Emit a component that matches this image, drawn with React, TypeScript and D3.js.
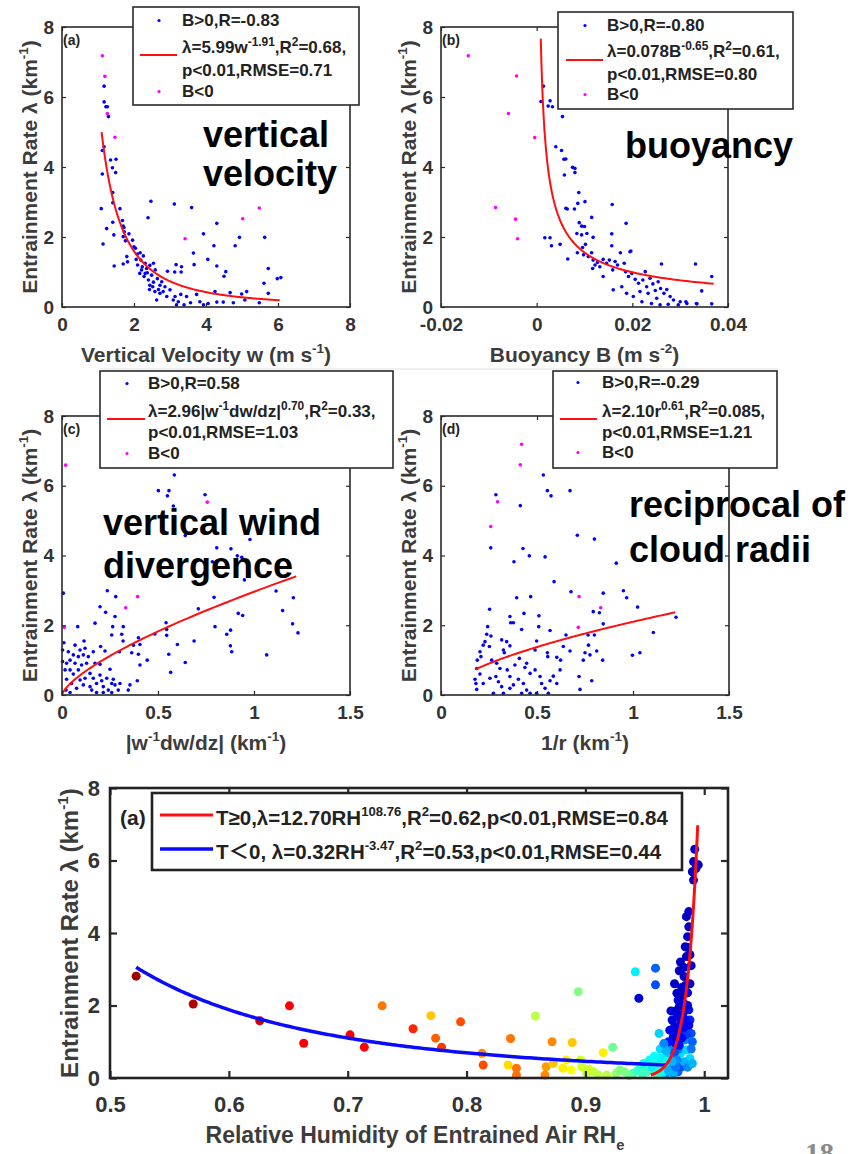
import { useRef, useEffect } from 'react';
import * as d3 from 'd3';

const FONT = '"Liberation Sans", Arial, "Noto Sans CJK SC", sans-serif';
const BLUE = '#0000ff';
const MAGENTA = '#ff00ff';
const RED = '#ff1010';
const AXIS = '#2a2a2a';
const TEXT = '#333';

// (a) vertical velocity w (m/s) vs entrainment rate, B>0 and B<0
const velPos: [number, number][] = [
  [1.17, 6.31], [1.17, 5.86], [1.22, 5.72], [1.26, 5.72], [1.29, 5.44], [1.12, 4.47], [1.17, 4.58], [1.12, 3.8],
  [1.35, 4.2], [1.5, 4.22], [1.4, 3.98], [1.49, 3.84], [1.41, 3.27], [1.41, 2.98], [1.09, 2.81], [1.61, 2.81],
  [2.47, 3.02], [3.12, 2.94], [3.6, 2.84], [1.41, 2.42], [1.24, 2.24], [1.68, 2.47], [1.7, 2.31], [1.72, 2.27],
  [1.73, 2.15], [2.39, 2.55], [1.44, 2.06], [1.14, 1.8], [1.7, 2.01], [1.76, 1.89], [1.86, 2.09], [1.96, 1.91],
  [2.0, 1.72], [2.04, 1.68], [4.3, 2.39], [3.93, 2.09], [4.93, 1.99], [5.63, 1.99], [4.22, 1.75], [4.81, 1.75],
  [3.65, 1.54], [4.05, 1.36], [4.3, 1.17], [3.67, 1.21], [3.17, 1.21], [3.32, 1.15], [3.31, 1.0], [2.93, 1.02],
  [3.13, 1.0], [4.5, 0.88], [4.55, 1.01], [5.73, 1.1], [5.98, 0.81], [6.08, 0.84], [5.61, 0.68], [1.8, 1.44],
  [1.7, 1.23], [1.82, 1.29], [1.45, 1.17], [2.09, 1.51], [2.17, 1.55], [2.26, 1.46], [2.19, 1.34], [2.31, 1.25],
  [2.1, 1.2], [2.23, 1.15], [2.35, 1.1], [2.44, 1.19], [2.54, 1.25], [2.59, 1.06], [2.16, 0.96], [2.28, 0.87],
  [2.4, 0.77], [2.44, 0.62], [2.54, 0.71], [2.65, 0.81], [2.72, 0.62], [2.77, 0.72], [2.86, 0.58], [2.58, 0.44],
  [2.68, 0.5], [3.0, 0.49], [3.14, 0.3], [3.3, 0.36], [3.46, 0.3], [3.57, 0.12], [3.74, 0.36], [3.83, 0.15],
  [4.06, 0.1], [4.25, 0.44], [4.3, 0.14], [4.48, 0.14], [4.67, 0.41], [4.76, 0.12], [4.99, 0.37], [5.13, 0.44],
  [5.08, 0.2], [5.48, 0.12], [5.73, 0.39], [3.23, 0.15], [3.18, 0.06], [3.39, 0.06], [3.93, 0.06], [2.63, 0.2],
  [2.91, 0.3], [3.09, 0.2], [2.31, 0.96], [2.37, 0.98], [2.49, 0.91], [2.43, 0.5], [2.72, 0.39], [2.81, 0.44],
  [2.52, 0.58], [2.21, 1.06], [2.06, 1.36],
];
const velNeg: [number, number][] = [
  [1.12, 7.18], [1.19, 6.59], [1.26, 5.53], [1.47, 4.85], [3.42, 1.95], [5.02, 2.52], [5.48, 2.83],
];

// (b) buoyancy B (m/s2)
const buoyPos: [number, number][] = [
  [0.0014, 6.31], [0.0009, 5.87], [0.0024, 5.74], [0.0033, 5.72], [0.0028, 5.89], [0.0054, 5.44], [0.004, 4.58],
  [0.0052, 4.47], [0.0057, 4.22], [0.0061, 4.23], [0.0075, 3.99], [0.008, 3.96], [0.008, 3.84], [0.0058, 3.77],
  [0.0088, 3.27], [0.0101, 3.01], [0.0086, 2.96], [0.0061, 2.82], [0.0064, 2.8], [0.0079, 2.8], [0.0158, 2.93],
  [0.0115, 2.56], [0.0089, 2.41], [0.0094, 2.31], [0.01, 2.3], [0.0084, 2.1], [0.0094, 2.06], [0.0105, 2.1],
  [0.0118, 1.99], [0.0017, 1.98], [0.0028, 1.98], [0.0031, 1.75], [0.0049, 1.79], [0.0187, 2.39], [0.0157, 2.09],
  [0.0157, 1.75], [0.0197, 1.6], [0.0175, 1.55], [0.0065, 1.37], [0.0085, 1.55], [0.0096, 1.7], [0.0102, 1.79],
  [0.0098, 1.49], [0.0108, 1.44], [0.0115, 1.55], [0.0118, 1.34], [0.0122, 1.2], [0.0117, 1.1], [0.0127, 1.27],
  [0.0132, 1.15], [0.0139, 1.36], [0.0146, 1.25], [0.0152, 1.34], [0.0159, 1.06], [0.0164, 1.3], [0.0169, 1.2],
  [0.0183, 1.25], [0.0186, 1.01], [0.0192, 0.87], [0.0199, 0.96], [0.0206, 0.79], [0.0213, 0.68], [0.0222, 0.77],
  [0.0227, 1.01], [0.023, 0.58], [0.0237, 0.82], [0.0243, 0.66], [0.0248, 0.47], [0.0254, 0.72], [0.0259, 0.53],
  [0.0266, 0.39], [0.0272, 0.5], [0.0279, 0.3], [0.0286, 0.2], [0.03, 0.15], [0.0314, 0.1], [0.0334, 0.1],
  [0.0261, 1.23], [0.0332, 1.23], [0.0139, 0.87], [0.016, 0.49], [0.0178, 0.58], [0.0188, 0.39], [0.0202, 0.3],
  [0.0216, 0.44], [0.0233, 0.39], [0.0251, 0.25], [0.022, 0.15], [0.024, 0.1], [0.0258, 0.06], [0.0275, 0.08],
  [0.0296, 0.06], [0.0345, 0.46], [0.0366, 0.87], [0.0366, 0.09], [0.0335, 0.09], [0.0312, 0.15], [0.0195, 1.58],
];
const buoyNeg: [number, number][] = [
  [-0.0143, 7.18], [-0.0042, 6.6], [-0.0059, 5.53], [-0.0004, 4.84], [-0.0086, 2.84], [-0.0044, 2.51], [-0.004, 1.95],
];

// (c) |w^-1 dw/dz| (1/km)
const divPos: [number, number][] = [
  [0.585, 6.31], [0.502, 5.86], [0.557, 5.86], [0.549, 5.71], [0.745, 5.74], [0.58, 5.42], [0.642, 4.57],
  [0.979, 4.46], [0.806, 4.22], [0.88, 4.19], [0.913, 3.99], [0.936, 3.95], [0.783, 3.82], [0.95, 3.3],
  [0.007, 2.92], [0.236, 2.99], [0.28, 2.82], [0.792, 2.8], [1.115, 2.98], [1.205, 2.79], [1.149, 2.42],
  [0.198, 2.53], [0.227, 2.37], [0.276, 2.25], [0.71, 2.47], [0.918, 2.34], [0.941, 2.28], [1.201, 2.04],
  [1.229, 1.78], [0.172, 2.06], [0.264, 1.96], [0.319, 1.96], [0.542, 2.07], [0.797, 1.96], [0.082, 1.96],
  [0.259, 1.72], [0.311, 1.74], [0.398, 1.64], [0.484, 1.75], [0.545, 1.88], [0.545, 1.71], [0.858, 1.74],
  [0.878, 1.86], [0.01, 1.5], [0.115, 1.55], [0.318, 1.55], [0.372, 1.43], [0.406, 1.45], [0.601, 1.45],
  [0.688, 1.55], [0.877, 1.41], [0.884, 1.24], [1.066, 1.15], [0.201, 1.39], [0.163, 1.24], [0.224, 1.26],
  [0.299, 1.24], [0.363, 1.21], [0.398, 1.17], [0.444, 1.0], [0.556, 1.17], [0.642, 0.93], [0.566, 0.65],
  [0.406, 0.86], [0.392, 0.41], [0.354, 0.29], [0.345, 0.14], [0.003, 1.29], [0.003, 0.96], [0.016, 0.72],
  [0.024, 0.91], [0.042, 1.0], [0.059, 1.15], [0.068, 0.91], [0.085, 1.1], [0.094, 1.29], [0.12, 1.34],
  [0.111, 1.15], [0.042, 0.72], [0.059, 0.6], [0.085, 0.72], [0.102, 0.86], [0.128, 0.91], [0.024, 0.45],
  [0.05, 0.33], [0.076, 0.19], [0.021, 0.14], [0.042, 0.07], [0.094, 0.43], [0.111, 0.29], [0.146, 0.62],
  [0.163, 0.48], [0.18, 0.33], [0.198, 0.57], [0.207, 0.41], [0.215, 0.24], [0.233, 0.48], [0.259, 0.33],
  [0.241, 0.14], [0.267, 0.45], [0.276, 0.29], [0.293, 0.14], [0.155, 0.14], [0.18, 0.07], [0.215, 0.07],
  [0.259, 0.07], [0.302, 0.33], [0.198, 0.88], [0.25, 0.74], [0.172, 0.91], [0.137, 1.1], [0.068, 1.43],
  [0.033, 1.24], [0.146, 0.24], [0.12, 0.48],
];
const divNeg: [number, number][] = [
  [0.019, 6.59], [0.757, 5.53], [0.583, 4.85], [0.394, 2.82], [0.332, 2.5], [0.012, 1.94],
];

// (d) 1/r (1/km)
const radPos: [number, number][] = [
  [0.533, 6.31], [0.554, 5.86], [0.573, 5.71], [0.672, 5.86], [0.286, 5.74], [0.413, 5.43], [0.259, 4.22],
  [0.71, 4.58], [0.799, 4.47], [0.427, 4.2], [0.46, 3.99], [0.542, 3.96], [0.38, 3.82], [0.913, 3.78],
  [0.589, 3.25], [0.677, 2.96], [0.845, 2.92], [0.95, 2.99], [0.967, 2.79], [0.467, 2.82], [0.394, 2.79],
  [0.253, 2.46], [1.024, 2.52], [0.793, 2.39], [0.825, 2.36], [0.51, 2.27], [0.432, 2.34], [0.359, 2.25],
  [0.377, 2.07], [0.363, 2.07], [0.243, 1.96], [0.42, 1.88], [0.509, 1.96], [0.568, 1.85], [0.845, 2.04],
  [1.224, 2.23], [1.106, 1.79], [0.651, 1.72], [0.766, 1.72], [0.799, 1.72], [0.238, 1.74], [0.26, 1.69],
  [0.316, 1.58], [0.342, 1.53], [0.359, 1.41], [0.498, 1.55], [0.229, 1.53], [0.22, 1.43], [0.252, 1.39],
  [0.203, 1.24], [0.189, 1.0], [0.208, 1.1], [0.325, 1.29], [0.33, 1.21], [0.408, 1.05], [0.49, 1.29],
  [0.554, 1.21], [0.556, 1.1], [0.603, 1.08], [0.623, 1.0], [0.637, 1.39], [0.672, 1.26], [0.768, 1.43],
  [0.75, 1.21], [0.776, 1.15], [0.811, 1.26], [0.741, 1.0], [0.842, 1.0], [0.997, 1.14], [1.036, 1.21],
  [0.719, 0.53], [0.785, 0.41], [0.724, 0.16], [0.186, 0.76], [0.203, 0.6], [0.177, 0.45], [0.182, 0.33],
  [0.186, 0.16], [0.22, 0.33], [0.255, 0.48], [0.286, 0.53], [0.299, 0.38], [0.316, 0.24], [0.325, 0.05],
  [0.359, 0.19], [0.377, 0.29], [0.403, 0.45], [0.429, 0.33], [0.446, 0.14], [0.464, 0.62], [0.49, 0.72],
  [0.516, 0.53], [0.524, 0.33], [0.542, 0.19], [0.568, 0.41], [0.585, 0.54], [0.603, 0.33], [0.62, 0.72],
  [0.559, 0.05], [0.498, 0.05], [0.464, 0.05], [0.42, 0.05], [0.273, 0.05], [0.345, 0.72], [0.307, 0.76],
  [0.29, 0.91], [0.264, 1.0], [0.385, 0.86], [0.437, 0.79], [0.359, 0.53], [0.446, 0.91],
];
const radNeg: [number, number][] = [
  [0.42, 7.19], [0.413, 6.6], [0.295, 5.54], [0.259, 4.83], [0.719, 2.82], [0.832, 2.5], [0.715, 1.94],
];

// power-law fits lambda = c * x^k over [from, to]
const fitVel = { c: 5.99, k: -1.91, from: 1.1, to: 6.05 };
const fitBuoy = { c: 0.078, k: -0.65, from: 0.00086, to: 0.037 };
const fitDiv = { c: 2.96, k: 0.7, from: 0.0005, to: 1.22 };
const fitRad = { c: 2.1, k: 0.61, from: 0.18, to: 1.22 };
const fitWarm = { c: 12.7, k: 108.76, from: 0.955, to: 0.9945 };
const fitCold = { c: 0.32, k: -3.47, from: 0.522, to: 0.968 };

// bottom panel: [RH_e, lambda, colour value 0 (cold) .. 1 (warm)]
const rhPoints: [number, number, number][] = [
  [0.522, 2.81, 0.97], [0.57, 2.04, 0.95], [0.626, 1.58, 0.92], [0.651, 1.99, 0.88], [0.663, 0.96, 0.88],
  [0.702, 1.19, 0.88], [0.714, 0.85, 0.88], [0.729, 1.99, 0.76], [0.755, 1.36, 0.84], [0.77, 1.72, 0.68],
  [0.774, 1.1, 0.78], [0.779, 0.85, 0.82], [0.795, 1.55, 0.8], [0.813, 0.68, 0.74], [0.814, 0.36, 0.8],
  [0.837, 1.09, 0.76], [0.835, 0.36, 0.66], [0.842, 0.27, 0.76], [0.842, 0.08, 0.76], [0.858, 1.71, 0.56],
  [0.872, 1.0, 0.74], [0.867, 0.31, 0.72], [0.866, 0.08, 0.74], [0.873, 0.4, 0.68], [0.881, 0.27, 0.64],
  [0.884, 0.5, 0.64], [0.889, 0.98, 0.68], [0.888, 0.22, 0.62], [0.894, 2.38, 0.5], [0.896, 0.5, 0.58],
  [0.897, 0.31, 0.58], [0.901, 0.13, 0.56], [0.907, 0.17, 0.56], [0.915, 0.7, 0.64], [0.923, 0.85, 0.48],
  [0.918, 0.08, 0.56], [0.926, 0.13, 0.52], [0.933, 0.17, 0.5], [0.94, 0.13, 0.45], [0.946, 0.27, 0.42],
  [0.949, 0.4, 0.38], [0.942, 2.93, 0.36], [0.945, 2.2, 0.08], [0.959, 3.03, 0.22], [0.959, 2.57, 0.2],
  [0.962, 1.23, 0.33], [0.954, 0.5, 0.38], [0.959, 0.22, 0.4], [0.964, 0.4, 0.4], [0.967, 0.59, 0.36],
  [0.968, 0.13, 0.28], [0.971, 0.31, 0.24], [0.973, 0.86, 0.26], [0.974, 1.14, 0.08], [0.975, 1.42, 0.08],
  [0.971, 1.32, 0.1], [0.977, 1.69, 0.08], [0.979, 1.97, 0.07], [0.977, 2.34, 0.06], [0.979, 2.96, 0.06],
  [0.982, 1.32, 0.16], [0.984, 1.05, 0.26], [0.985, 0.77, 0.34], [0.98, 0.68, 0.34], [0.985, 3.35, 0.06],
  [0.984, 3.62, 0.06], [0.986, 3.9, 0.07], [0.987, 4.17, 0.06], [0.985, 4.45, 0.06], [0.987, 4.59, 0.07],
  [0.98, 2.11, 0.07], [0.987, 1.88, 0.14], [0.988, 1.6, 0.16], [0.989, 1.23, 0.2], [0.984, 1.6, 0.12],
  [0.988, 0.54, 0.34], [0.991, 5.46, 0.06], [0.99, 5.69, 0.06], [0.993, 5.78, 0.06], [0.995, 5.88, 0.07],
  [0.992, 6.31, 0.06], [0.991, 5.97, 0.07], [0.978, 0.17, 0.22], [0.981, 0.31, 0.2], [0.974, 0.13, 0.3],
  [0.952, 0.17, 0.44], [0.961, 0.13, 0.46], [0.976, 0.95, 0.12], [0.978, 1.25, 0.1], [0.98, 1.5, 0.1],
  [0.982, 1.75, 0.09], [0.983, 2.05, 0.09], [0.981, 2.5, 0.07], [0.983, 2.8, 0.07], [0.986, 2.35, 0.1],
  [0.985, 1.2, 0.18], [0.983, 0.45, 0.3], [0.986, 0.3, 0.26], [0.972, 0.6, 0.32], [0.969, 0.45, 0.38],
  [0.966, 0.25, 0.4], [0.962, 0.55, 0.36], [0.97, 1.0, 0.14], [0.978, 0.8, 0.24], [0.99, 1.0, 0.22],
  [0.988, 2.6, 0.08], [0.989, 3.1, 0.07], [0.944, 0.2, 0.42], [0.948, 0.1, 0.44], [0.956, 0.3, 0.36],
  [0.937, 0.07, 0.48], [0.929, 0.22, 0.5], [0.911, 0.08, 0.56], [0.903, 0.25, 0.58],
  [0.975, 0.7, 0.2], [0.977, 0.5, 0.26], [0.979, 0.9, 0.14], [0.981, 1.1, 0.12], [0.983, 1.4, 0.1],
  [0.976, 1.85, 0.07], [0.978, 2.15, 0.07], [0.982, 2.3, 0.06], [0.984, 2.55, 0.06], [0.986, 2.0, 0.08],
  [0.987, 1.45, 0.12], [0.989, 0.8, 0.24], [0.99, 0.4, 0.3], [0.973, 1.6, 0.08], [0.972, 1.85, 0.08],
  [0.975, 2.6, 0.06], [0.98, 3.2, 0.06], [0.983, 3.05, 0.06], [0.986, 3.6, 0.06], [0.988, 3.4, 0.07],
  [0.963, 0.8, 0.34], [0.958, 0.6, 0.38], [0.957, 0.4, 0.4], [0.96, 0.1, 0.44], [0.965, 0.15, 0.38],
  [0.97, 0.2, 0.3], [0.976, 0.3, 0.24], [0.973, 0.45, 0.3], [0.968, 0.75, 0.3], [0.966, 0.95, 0.26],
];

const lambdaTicks = [0, 2, 4, 6, 8];
const rhTicks = [0.5, 0.6, 0.7, 0.8, 0.9, 1];

type Seg = [string, number]; // 0 normal, 1 superscript, -1 subscript

const yLabelSegs: Seg[] = [['Entrainment Rate λ (km', 0], ['-1', 1], [')', 0]];

const jet = d3
  .scaleLinear<string>()
  .domain([0, 0.125, 0.375, 0.625, 0.875, 1])
  .range(['#00008f', '#0000ff', '#00ffff', '#ffff00', '#ff0000', '#800000']);

function rich(text: any, segs: Seg[], fs: number, supScale = 0.64) {
  let cur = 0;
  segs.forEach(([t, k]) => {
    const target = k === 1 ? -0.42 * fs : k === -1 ? 0.3 * fs : 0;
    text
      .append('tspan')
      .attr('dy', target - cur)
      .attr('font-size', k === 0 ? fs : fs * supScale)
      .text(t);
    cur = target;
  });
}

function fitPoints(f: { c: number; k: number; from: number; to: number }, n = 200) {
  // geometric spacing so steep parts stay smooth
  return d3.range(n + 1).map((i) => {
    const x = f.from * Math.pow(f.to / f.from, i / n);
    return [x, f.c * Math.pow(x, f.k)] as [number, number];
  });
}

function styleAxis(g: any, fs: number, width: number) {
  g.select('.domain').remove();
  g.attr('font-family', FONT).attr('font-size', fs).attr('font-weight', 'bold').attr('color', AXIS);
  g.selectAll('line').attr('stroke-width', width);
  g.selectAll('text').attr('fill', TEXT);
}

const fmt = (d: any) => String(d);

function drawPanel(svg: any, p: any) {
  const x = d3.scaleLinear().domain(p.xDomain).range([p.left, p.left + p.width]);
  const y = d3.scaleLinear().domain([0, 8]).range([p.top + p.height, p.top]);
  const bottom = p.top + p.height;
  const right = p.left + p.width;
  const g = svg.append('g');

  g.selectAll('circle.pos')
    .data(p.pos)
    .join('circle')
    .attr('cx', (d: any) => x(d[0]))
    .attr('cy', (d: any) => y(d[1]))
    .attr('r', 1.8)
    .attr('fill', BLUE);
  g.selectAll('circle.neg')
    .data(p.neg)
    .join('circle')
    .attr('cx', (d: any) => x(d[0]))
    .attr('cy', (d: any) => y(d[1]))
    .attr('r', 1.8)
    .attr('fill', MAGENTA);

  const line = d3
    .line<[number, number]>()
    .x((d) => x(d[0]))
    .y((d) => y(d[1]));
  g.append('path').attr('d', line(fitPoints(p.fit))).attr('fill', 'none').attr('stroke', RED).attr('stroke-width', 2);

  // axes (ticks inside, box on)
  const ax = g.append('g').attr('transform', `translate(0,${bottom})`)
    .call(d3.axisBottom(x).tickValues(p.xTicks).tickSizeInner(-4).tickSizeOuter(0).tickPadding(11).tickFormat(fmt));
  styleAxis(ax, 19, 1.2);
  const axT = g.append('g').attr('transform', `translate(0,${p.top})`)
    .call(d3.axisTop(x).tickValues(p.xTicks).tickSizeInner(-4).tickSizeOuter(0).tickFormat(() => ''));
  styleAxis(axT, 19, 1.2);
  const ay = g.append('g').attr('transform', `translate(${p.left},0)`)
    .call(d3.axisLeft(y).tickValues(lambdaTicks).tickSizeInner(-4).tickSizeOuter(0).tickPadding(8).tickFormat(fmt));
  styleAxis(ay, 19, 1.2);
  const ayR = g.append('g').attr('transform', `translate(${right},0)`)
    .call(d3.axisRight(y).tickValues(lambdaTicks).tickSizeInner(-4).tickSizeOuter(0).tickFormat(() => ''));
  styleAxis(ayR, 19, 1.2);

  g.append('rect')
    .attr('x', p.left).attr('y', p.top).attr('width', p.width).attr('height', p.height)
    .attr('fill', 'none').attr('stroke', AXIS).attr('stroke-width', 1.6);

  // axis labels
  const xl = g.append('text')
    .attr('x', (p.left + right) / 2).attr('y', p.xLabelY)
    .attr('text-anchor', 'middle').attr('font-family', FONT).attr('font-weight', 'bold')
    .attr('font-size', 21).attr('fill', '#3c3c3c');
  rich(xl, p.xLabel, 21);
  const yl = g.append('text')
    .attr('transform', `translate(${p.left - 25},${(p.top + bottom) / 2}) rotate(-90)`)
    .attr('text-anchor', 'middle').attr('font-family', FONT).attr('font-weight', 'bold')
    .attr('font-size', 21).attr('fill', '#3c3c3c');
  rich(yl, yLabelSegs, 21);

  // panel tag
  g.append('text').attr('x', p.left + 1).attr('y', p.top + 18)
    .attr('font-family', FONT).attr('font-weight', 'bold').attr('font-size', 14).attr('fill', '#222')
    .text(p.tag);

  // legend
  const L = p.legend;
  g.append('rect')
    .attr('x', L.box[0]).attr('y', L.box[1]).attr('width', L.box[2] - L.box[0]).attr('height', L.box[3] - L.box[1])
    .attr('fill', 'white').attr('stroke', AXIS).attr('stroke-width', 1.6);
  g.append('circle').attr('cx', L.markerX).attr('cy', L.base[0] - 5.5).attr('r', 1.6).attr('fill', BLUE);
  g.append('circle').attr('cx', L.markerX).attr('cy', L.base[3] - 5.5).attr('r', 1.6).attr('fill', MAGENTA);
  g.append('line').attr('x1', L.line[0]).attr('x2', L.line[1]).attr('y1', L.lineY).attr('y2', L.lineY)
    .attr('stroke', RED).attr('stroke-width', 2);
  p.legendText.forEach((segs: Seg[], i: number) => {
    const t = g.append('text').attr('x', L.textX).attr('y', L.base[i])
      .attr('font-family', FONT).attr('font-weight', 'bold').attr('font-size', 17).attr('fill', '#222');
    rich(t, segs, 17, 0.7);
  });

  // big annotation
  p.notes.forEach((n: any) => {
    g.append('text').attr('x', n.x).attr('y', n.y)
      .attr('font-family', FONT).attr('font-weight', 'bold').attr('font-size', 36).attr('fill', '#000')
      .text(n.text);
  });
}

function drawBottom(svg: any) {
  const left = 110, top = 788, right = 728, bottom = 1078;
  const x = d3.scaleLinear().domain([0.5, 1.02]).range([left, right]);
  const y = d3.scaleLinear().domain([0, 8]).range([bottom, top]);
  const g = svg.append('g');

  g.selectAll('circle.rh')
    .data(rhPoints)
    .join('circle')
    .attr('cx', (d: any) => x(d[0]))
    .attr('cy', (d: any) => y(d[1]))
    .attr('r', 4.5)
    .attr('fill', (d: any) => jet(d[2]));

  const line = d3
    .line<[number, number]>()
    .x((d) => x(d[0]))
    .y((d) => y(d[1]));
  g.append('path').attr('d', line(fitPoints(fitCold))).attr('fill', 'none').attr('stroke', '#0a0aff').attr('stroke-width', 3.5);
  g.append('path').attr('d', line(fitPoints(fitWarm))).attr('fill', 'none').attr('stroke', RED).attr('stroke-width', 3);

  const ax = g.append('g').attr('transform', `translate(0,${bottom})`)
    .call(d3.axisBottom(x).tickValues(rhTicks).tickSizeInner(-7).tickSizeOuter(0).tickPadding(18).tickFormat(fmt));
  styleAxis(ax, 22, 2.2);
  const axT = g.append('g').attr('transform', `translate(0,${top})`)
    .call(d3.axisTop(x).tickValues(rhTicks).tickSizeInner(-7).tickSizeOuter(0).tickFormat(() => ''));
  styleAxis(axT, 22, 2.2);
  const ay = g.append('g').attr('transform', `translate(${left},0)`)
    .call(d3.axisLeft(y).tickValues(lambdaTicks).tickSizeInner(-7).tickSizeOuter(0).tickPadding(10).tickFormat(fmt));
  styleAxis(ay, 22, 2.2);
  const ayR = g.append('g').attr('transform', `translate(${right},0)`)
    .call(d3.axisRight(y).tickValues(lambdaTicks).tickSizeInner(-7).tickSizeOuter(0).tickFormat(() => ''));
  styleAxis(ayR, 22, 2.2);

  g.append('rect').attr('x', left).attr('y', top).attr('width', right - left).attr('height', bottom - top)
    .attr('fill', 'none').attr('stroke', '#222').attr('stroke-width', 2.6);

  const xl = g.append('text').attr('x', 415).attr('y', 1143).attr('text-anchor', 'middle')
    .attr('font-family', FONT).attr('font-weight', 'bold').attr('font-size', 23).attr('fill', '#3c3c3c');
  rich(xl, [['Relative Humidity of Entrained Air RH', 0], ['e', -1]], 23);
  const yl = g.append('text')
    .attr('transform', `translate(78,${(top + bottom) / 2}) rotate(-90)`)
    .attr('text-anchor', 'middle').attr('font-family', FONT).attr('font-weight', 'bold')
    .attr('font-size', 24).attr('fill', '#3c3c3c');
  rich(yl, yLabelSegs, 24);

  g.append('text').attr('x', 120).attr('y', 825).attr('font-family', FONT).attr('font-weight', 'bold')
    .attr('font-size', 21).attr('fill', '#222').text('(a)');

  // legend
  g.append('rect').attr('x', 152).attr('y', 793).attr('width', 530).attr('height', 77)
    .attr('fill', 'white').attr('stroke', '#222').attr('stroke-width', 2.6);
  g.append('line').attr('x1', 160).attr('x2', 213).attr('y1', 815).attr('y2', 815).attr('stroke', RED).attr('stroke-width', 3);
  g.append('line').attr('x1', 160).attr('x2', 213).attr('y1', 849).attr('y2', 849).attr('stroke', '#0a0aff').attr('stroke-width', 3.5);
  const l1 = g.append('text').attr('x', 216).attr('y', 825).attr('font-family', FONT)
    .attr('font-weight', 'bold').attr('font-size', 20.5).attr('fill', '#222');
  rich(l1, [['T≥0,λ=12.70RH', 0], ['108.76', 1], [',R', 0], ['2', 1], ['=0.62,p<0.01,RMSE=0.84', 0]], 20.5);
  const l2 = g.append('text').attr('x', 216).attr('y', 859).attr('font-family', FONT)
    .attr('font-weight', 'bold').attr('font-size', 20.5).attr('fill', '#222');
  rich(l2, [['T＜0, λ=0.32RH', 0], ['-3.47', 1], [',R', 0], ['2', 1], ['=0.53,p<0.01,RMSE=0.44', 0]], 20.5);
}

const panels = [
  {
    left: 62, top: 27, width: 288, height: 280, xDomain: [0, 8], xTicks: [0, 2, 4, 6, 8],
    pos: velPos, neg: velNeg, fit: fitVel, tag: '(a)', xLabelY: 362,
    xLabel: [['Vertical Velocity w (m s', 0], ['-1', 1], [')', 0]],
    legend: { box: [133, 7, 359, 105], base: [26, 53, 76, 97], markerX: 159, line: [140, 177], lineY: 55, textX: 182 },
    legendText: [
      [['B>0,R=-0.83', 0]],
      [['λ=5.99w', 0], ['-1.91', 1], [',R', 0], ['2', 1], ['=0.68,', 0]],
      [['p<0.01,RMSE=0.71', 0]],
      [['B<0', 0]],
    ],
    notes: [{ text: 'vertical', x: 203, y: 147 }, { text: 'velocity', x: 203, y: 186 }],
  },
  {
    left: 441, top: 27, width: 287, height: 280, xDomain: [-0.02, 0.04], xTicks: [-0.02, 0, 0.02, 0.04],
    pos: buoyPos, neg: buoyNeg, fit: fitBuoy, tag: '(b)', xLabelY: 362,
    xLabel: [['Buoyancy B (m s', 0], ['-2', 1], [')', 0]],
    legend: { box: [558, 12, 793, 109], base: [31, 57, 80, 100], markerX: 585, line: [566, 603], lineY: 60, textX: 607 },
    legendText: [
      [['B>0,R=-0.80', 0]],
      [['λ=0.078B', 0], ['-0.65', 1], [',R', 0], ['2', 1], ['=0.61,', 0]],
      [['p<0.01,RMSE=0.80', 0]],
      [['B<0', 0]],
    ],
    notes: [{ text: 'buoyancy', x: 625, y: 158 }],
  },
  {
    left: 62, top: 416, width: 288, height: 279, xDomain: [0, 1.5], xTicks: [0, 0.5, 1, 1.5],
    pos: divPos, neg: divNeg, fit: fitDiv, tag: '(c)', xLabelY: 750,
    xLabel: [['|w', 0], ['-1', 1], ['dw/dz| (km', 0], ['-1', 1], [')', 0]],
    legend: { box: [100, 371, 393, 468], base: [389, 417, 438, 459], markerX: 127, line: [107, 145], lineY: 419, textX: 148 },
    legendText: [
      [['B>0,R=0.58', 0]],
      [['λ=2.96|w', 0], ['-1', 1], ['dw/dz|', 0], ['0.70', 1], [',R', 0], ['2', 1], ['=0.33,', 0]],
      [['p<0.01,RMSE=1.03', 0]],
      [['B<0', 0]],
    ],
    notes: [{ text: 'vertical wind', x: 103, y: 535 }, { text: 'divergence', x: 103, y: 578 }],
  },
  {
    left: 441, top: 416, width: 288, height: 279, xDomain: [0, 1.5], xTicks: [0, 0.5, 1, 1.5],
    pos: radPos, neg: radNeg, fit: fitRad, tag: '(d)', xLabelY: 750,
    xLabel: [['1/r (km', 0], ['-1', 1], [')', 0]],
    legend: { box: [553, 371, 777, 468], base: [388, 417, 438, 458], markerX: 578, line: [560, 597], lineY: 419, textX: 602 },
    legendText: [
      [['B>0,R=-0.29', 0]],
      [['λ=2.10r', 0], ['0.61', 1], [',R', 0], ['2', 1], ['=0.085,', 0]],
      [['p<0.01,RMSE=1.21', 0]],
      [['B<0', 0]],
    ],
    notes: [{ text: 'reciprocal of', x: 629, y: 517 }, { text: 'cloud radii', x: 629, y: 562 }],
  },
];

const App = () => {
  const svgRef = useRef<SVGSVGElement | null>(null);

  useEffect(() => {
    const svg = d3.select(svgRef.current);
    svg.selectAll('*').remove();
    svg.append('rect').attr('width', 856).attr('height', 1154).attr('fill', 'white');

    // faint slide rule under the top row
    svg.append('line').attr('x1', 100).attr('x2', 778).attr('y1', 369).attr('y2', 369)
      .attr('stroke', '#e2e2e2').attr('stroke-width', 1);

    panels.forEach((p) => drawPanel(svg, p));
    drawBottom(svg);

    // slide page number, cut by the frame as in the source slide
    svg.append('text').attr('x', 805).attr('y', 1163)
      .attr('font-family', '"Liberation Serif", serif').attr('font-weight', 'bold')
      .attr('font-size', 29).attr('fill', '#8a8a8a').text('18');
  }, []);

  return (
    <svg
      ref={svgRef}
      width={856}
      height={1154}
      style={{ position: 'absolute', left: 0, top: 0, display: 'block' }}
    />
  );
};

export default App;
